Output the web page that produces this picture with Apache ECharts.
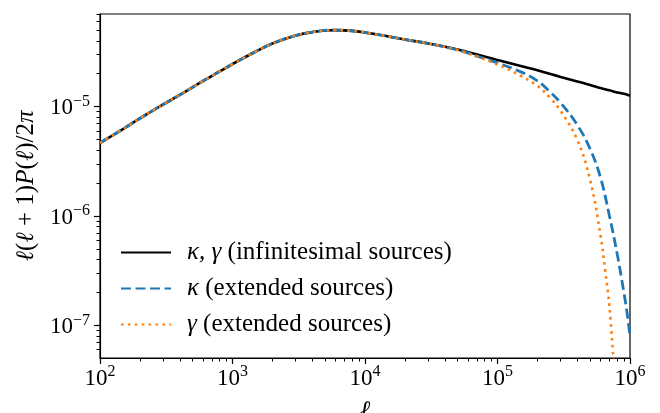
<!DOCTYPE html>
<html>
<head>
<meta charset="utf-8">
<script src="https://cdn.jsdelivr.net/npm/echarts@6/dist/echarts.min.js"></script>
<style>
  html, body { margin: 0; padding: 0; background: #fff; }
  #chart { width: 660px; height: 413px; }
</style>
</head>
<body>
<div id="chart"></div>
<script>
// multipole values
const ellBlack = [100, 150, 200, 300, 400, 600, 800, 1000, 1500, 2000, 3000, 4000, 5000, 6000, 8000,
  1e4, 1.5e4, 2e4, 3e4, 5e4, 7e4, 1e5, 1.5e5, 2e5, 3e5, 4e5, 5e5, 6e5, 7e5, 8e5, 9e5, 1e6];
const powBlack = [4.66e-6, 6.26e-6, 7.80e-6, 1.047e-5, 1.279e-5, 1.718e-5, 2.096e-5, 2.454e-5, 3.193e-5,
  3.777e-5, 4.467e-5, 4.81e-5, 4.97e-5, 5.01e-5, 4.93e-5, 4.76e-5, 4.38e-5, 4.11e-5, 3.78e-5, 3.33e-5,
  3.00e-5, 2.67e-5, 2.35e-5, 2.15e-5, 1.87e-5, 1.70e-5, 1.58e-5, 1.48e-5, 1.41e-5, 1.35e-5, 1.31e-5, 1.26e-5];

const ellKappa = [100, 150, 200, 300, 400, 600, 800, 1000, 1500, 2000, 3000, 4000, 5000, 6000, 8000,
  1e4, 1.5e4, 2e4, 3e4, 5e4, 7e4, 1e5, 1.5e5, 2e5, 2.5e5, 3e5, 4e5, 5e5, 6e5, 7e5, 8e5, 9e5, 9.5e5, 1e6];
const powKappa = [4.66e-6, 6.26e-6, 7.80e-6, 1.047e-5, 1.279e-5, 1.718e-5, 2.096e-5, 2.454e-5, 3.193e-5,
  3.777e-5, 4.467e-5, 4.81e-5, 4.97e-5, 5.01e-5, 4.93e-5, 4.76e-5, 4.38e-5, 4.11e-5, 3.78e-5, 3.30e-5,
  2.90e-5, 2.51e-5, 2.08e-5, 1.72e-5, 1.36e-5, 1.08e-5, 6.81e-6, 4.11e-6, 2.23e-6, 1.00e-6, 4.52e-7,
  1.99e-7, 1.31e-7, 7.89e-8];

const ellGamma = [100, 150, 200, 300, 400, 600, 800, 1000, 1500, 2000, 3000, 4000, 5000, 6000, 8000,
  1e4, 1.5e4, 2e4, 3e4, 5e4, 7e4, 1e5, 1.5e5, 2e5, 2.5e5, 3e5, 4e5, 5e5, 6e5, 6.5e5, 7e5, 7.5e5];
const powGamma = [4.66e-6, 6.26e-6, 7.80e-6, 1.047e-5, 1.279e-5, 1.718e-5, 2.096e-5, 2.454e-5, 3.193e-5,
  3.777e-5, 4.467e-5, 4.81e-5, 4.97e-5, 5.01e-5, 4.93e-5, 4.76e-5, 4.38e-5, 4.11e-5, 3.78e-5, 3.30e-5,
  2.87e-5, 2.43e-5, 1.91e-5, 1.55e-5, 1.20e-5, 9.14e-6, 4.97e-6, 2.14e-6, 6.60e-7, 3.16e-7, 1.48e-7, 4.8e-8];

const seriesNames = ['κ, γ (infinitesimal sources)', 'κ (extended sources)', 'γ (extended sources)'];

// ticks
const xMajor = [1e2, 1e3, 1e4, 1e5, 1e6];
const yMajor = [1e-7, 1e-6, 1e-5];
const xMinor = [];
for (let e = 2; e < 6; e++) for (let k = 2; k <= 9; k++) xMinor.push(k * Math.pow(10, e));
const yMinor = [];
for (let e = -8; e < -4; e++) for (let k = 2; k <= 9; k++) yMinor.push(k * Math.pow(10, e));

const serif = 'Liberation Serif';
const xMin = 100, xMax = 1e6;
const yMin = 5.04e-8, yMax = 7.03e-5;

function pairs(xs, ys) {
  return xs.map((x, i) => [x, ys[i]]);
}
function powLabel(v) {
  const e = Math.round(Math.log10(v));
  return '{b|10}{s|' + (e < 0 ? '\u2212' + (-e) : e) + '}';
}
const powRich = {
  b: { fontSize: 23, fontFamily: serif, color: '#000', verticalAlign: 'bottom', lineHeight: 23 },
  s: { fontSize: 16, fontFamily: serif, color: '#000', verticalAlign: 'bottom', padding: [0, 0, 10, 0] }
};
const italic = { fontFamily: serif, fontSize: 25, fontStyle: 'italic', color: '#000' };

let myChart = echarts.init(document.getElementById('chart'));
let colors = ['#000000', '#1f77b4', '#ff7f0e'];
let option = {
  animation: false,
  color: colors,
  grid: {
    left: 100, right: 30, top: 14, bottom: 55,
    show: true, borderColor: '#000', borderWidth: 1.2,
    containLabel: false,
    outerBoundsMode: 'none'
  },
  legend: {
    orient: 'vertical',
    left: 115,
    top: 235,
    itemWidth: 50,
    itemHeight: 14,
    itemGap: 11,
    data: seriesNames,
    itemStyle: { opacity: 0 },
    formatter: function (name) {
      if (name === seriesNames[0]) return '{i|κ, γ} (infinitesimal sources)';
      if (name === seriesNames[1]) return '{i|κ} (extended sources)';
      return '{i|γ} (extended sources)';
    },
    textStyle: {
      fontFamily: serif, fontSize: 25, color: '#000', padding: [0, 0, 0, 11],
      rich: { i: italic }
    }
  },
  xAxis: [
    {
      type: 'log', logBase: 10, min: xMin, max: xMax, position: 'bottom',
      axisLine: { show: true, lineStyle: { color: '#000', width: 1.2 } },
      axisTick: { show: true, customValues: xMajor, length: 6, lineStyle: { color: '#000', width: 1.2 } },
      axisLabel: { customValues: xMajor, formatter: powLabel, rich: powRich, margin: 6 },
      splitLine: { show: false },
      minorTick: { show: false },
      name: '{i|ℓ}',
      nameLocation: 'middle',
      nameGap: 41,
      nameTextStyle: { rich: { i: italic } }
    },
    {
      type: 'log', logBase: 10, min: xMin, max: xMax, position: 'bottom',
      axisLine: { show: false },
      axisTick: { show: true, customValues: xMinor, length: 3.5, lineStyle: { color: '#000', width: 1 } },
      axisLabel: { show: false },
      splitLine: { show: false }
    }
  ],
  yAxis: [
    {
      type: 'log', logBase: 10, min: yMin, max: yMax, position: 'left',
      axisLine: { show: true, lineStyle: { color: '#000', width: 1.2 } },
      axisTick: { show: true, customValues: yMajor, length: 6, lineStyle: { color: '#000', width: 1.2 } },
      axisLabel: { customValues: yMajor, formatter: powLabel, rich: powRich, margin: 10 },
      splitLine: { show: false },
      minorTick: { show: false },
      name: '{i|ℓ}({i|ℓ} + 1){i|P}({i|ℓ})/2{i|π}',
      nameLocation: 'middle',
      nameGap: 61,
      nameTextStyle: {
        fontFamily: serif, fontSize: 25, color: '#000',
        rich: { i: italic }
      }
    },
    {
      type: 'log', logBase: 10, min: yMin, max: yMax, position: 'left',
      axisLine: { show: false },
      axisTick: { show: true, customValues: yMinor, length: 3.5, lineStyle: { color: '#000', width: 1 } },
      axisLabel: { show: false },
      splitLine: { show: false }
    }
  ],
  series: [
    {
      name: seriesNames[0], type: 'line', symbol: 'none', smooth: 0.4, clip: true,
      lineStyle: { color: colors[0], width: 2.6, type: 'solid' },
      data: pairs(ellBlack, powBlack)
    },
    {
      name: seriesNames[1], type: 'line', symbol: 'none', smooth: 0.4, clip: true,
      lineStyle: { color: colors[1], width: 2.8, type: [10, 4.5] },
      data: pairs(ellKappa, powKappa)
    },
    {
      name: seriesNames[2], type: 'line', symbol: 'none', smooth: 0.4, clip: true,
      lineStyle: { color: colors[2], width: 2.6, type: [2.6, 4.3] },
      data: pairs(ellGamma, powGamma)
    }
  ]
};
myChart.setOption(option);
</script>
</body>
</html>
